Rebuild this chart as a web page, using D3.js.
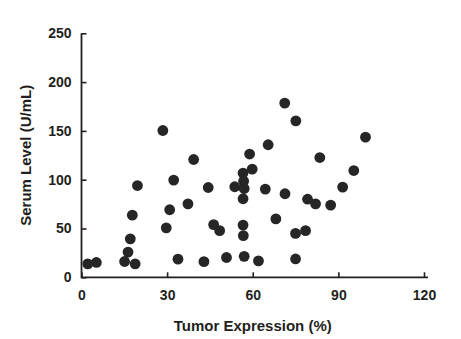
<!DOCTYPE html>
<html><head><meta charset="utf-8">
<script src="https://cdn.jsdelivr.net/npm/d3@7"></script>
<style>
body{margin:0;background:#fff;}
svg{display:block;font-family:"Liberation Sans",Arial,Helvetica,sans-serif;}
</style></head>
<body><svg id="chart" width="461" height="339"></svg>
<script>
const tumorExpression = [2.2,5.2,15.1,16.3,17.1,17.8,18.8,19.6,28.5,32.3,30.9,29.7,33.8,39.3,37.3,44.4,46.3,48.4,42.9,50.8,53.7,56.6,56.8,57.0,56.6,56.6,56.7,57.0,62.0,58.9,59.8,65.4,64.4,71.2,75.1,71.3,79.2,68.1,75.0,78.5,75.0,83.5,99.5,95.4,91.5,82.0,87.3];
const serumLevel = [13.8,15.2,16.2,25.8,39.4,63.7,13.8,94,150.4,99.6,69.2,50.7,18.6,120.7,75.3,92,54,47.8,16,20.3,92.8,106.8,98.5,91,80.5,53.5,42.7,21.5,16.8,126.3,110.8,135.8,90.4,178.5,160.3,85.6,80,59.8,45,47.8,18.8,122.7,143.6,109.4,92.4,75.3,74];
const xTicks = [0,30,60,90,120];
const yTicks = [0,50,100,150,200,250];
const xTitle = "Tumor Expression (%)";
const yTitle = "Serum Level (U/mL)";

const ink = "#231f20";
const svg = d3.select("#chart");
const x = d3.scaleLinear().domain([0,120]).range([81.5,424]);
const y = d3.scaleLinear().domain([0,250]).range([277.3,33.3]);

const gx = svg.append("g").attr("transform",`translate(0,${y(0)})`)
  .call(d3.axisBottom(x).tickValues(xTicks).tickSize(-5).tickPadding(13));
const gy = svg.append("g").attr("transform",`translate(${x(0)},0)`)
  .call(d3.axisLeft(y).tickValues(yTicks).tickSize(-5).tickPadding(10));
[gx,gy].forEach(g=>{
  g.selectAll("path.domain").remove();
  g.selectAll("line").attr("stroke",ink).attr("stroke-width",1.6);
  g.selectAll("text").attr("fill",ink).style("font-size","14px").style("font-weight","bold")
   .style("font-family","'Liberation Sans',Arial,sans-serif");
});
svg.append("line").attr("x1",x(0)).attr("x2",428).attr("y1",y(0)).attr("y2",y(0))
  .attr("stroke",ink).attr("stroke-width",1.8);
svg.append("line").attr("x1",x(0)).attr("x2",x(0)).attr("y1",y(0)+0.9).attr("y2",y(250))
  .attr("stroke",ink).attr("stroke-width",1.8);

svg.append("g").selectAll("circle").data(tumorExpression.map((v,i)=>[v,serumLevel[i]]))
  .join("circle").attr("cx",d=>x(d[0])).attr("cy",d=>y(d[1])).attr("r",5.4).attr("fill","#262626");

svg.append("text").attr("x",(x(0)+x(120))/2).attr("y",331).attr("text-anchor","middle")
  .attr("fill",ink).style("font-size","15px").style("font-weight","bold").text(xTitle);
svg.append("text").attr("transform",`translate(31,${(y(0)+y(250))/2}) rotate(-90)`).attr("text-anchor","middle")
  .attr("fill",ink).style("font-size","15px").style("font-weight","bold").text(yTitle);
</script></body></html>
